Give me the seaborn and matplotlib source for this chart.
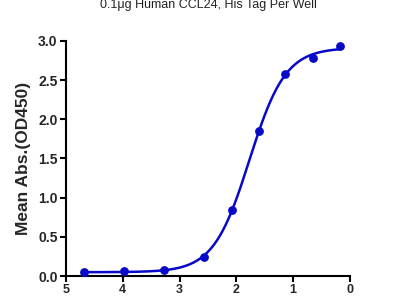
import numpy as np
import pandas as pd
import matplotlib
matplotlib.use("Agg")
import matplotlib.pyplot as plt
import seaborn as sns

# Data
log_dilution = [4.68, 3.98, 3.27, 2.57, 2.08, 1.60, 1.14, 0.65, 0.18]
mean_abs = [0.05, 0.06, 0.08, 0.24, 0.84, 1.85, 2.58, 2.78, 2.93]
x_ticks = [5, 4, 3, 2, 1, 0]
y_ticks = [0.0, 0.5, 1.0, 1.5, 2.0, 2.5, 3.0]
title = "0.1μg Human CCL24, His Tag Per Well"
ylabel = "Mean Abs.(OD450)"
color = "#0808c8"

sns.set_theme(style="ticks")
plt.rcParams['font.family'] = ['Liberation Sans', 'DejaVu Sans']

x = np.array(log_dilution)
y = np.array(mean_abs)

# Four-parameter logistic fit of the data (grid search + linear LSQ for bottom/top)
best = None
for c in np.linspace(0.5, 3.5, 301):
    for s in np.linspace(0.5, 6, 221):
        g = 1.0 / (1.0 + np.exp(s * (x - c)))
        A = np.vstack([np.ones_like(g), g]).T
        coef, *_ = np.linalg.lstsq(A, y, rcond=None)
        r = np.sum((A @ coef - y) ** 2)
        if best is None or r < best[0]:
            best = (r, c, s, coef)
_, c, s, coef = best
xf = np.linspace(x.min(), x.max(), 300)
yf = coef[0] + coef[1] / (1.0 + np.exp(s * (xf - c)))

fig = plt.figure(figsize=(4, 3), dpi=100)
ax = fig.add_axes([0.165, 0.08, 0.71, 0.784])

sns.lineplot(x=xf, y=yf, ax=ax, color=color, linewidth=1.8)
sns.scatterplot(x=x, y=y, ax=ax, color=color, s=40, edgecolor=color, linewidth=0, zorder=3)

ax.set_xlim(5, 0)
ax.set_ylim(0, 3.0)
ax.set_xticks(x_ticks)
ax.set_xticklabels([str(t) for t in x_ticks])
ax.set_yticks(y_ticks)
ax.set_yticklabels([f"{t:.1f}" for t in y_ticks])
for lab in ax.get_yticklabels():
    lab.set_fontweight('bold')
    lab.set_fontsize(10)
for lab in ax.get_xticklabels():
    lab.set_fontweight('bold')
    lab.set_fontsize(9)
ax.tick_params(axis='both', width=1.5, length=4.5, color='black')
ax.tick_params(axis='y', pad=1.5)
ax.tick_params(axis='x', pad=1)
for sp in ['left', 'bottom']:
    ax.spines[sp].set_linewidth(1.5)
    ax.spines[sp].set_color('black')
sns.despine(ax=ax)
ax.set_xlabel("")
ax.set_ylabel(ylabel, fontsize=12.5, fontweight='bold', labelpad=5)

fig.text(0.52, 1 - 8 / 300, title, ha='center', va='baseline', fontsize=9, color='#222222')

fig.savefig("out.png", dpi=100)
